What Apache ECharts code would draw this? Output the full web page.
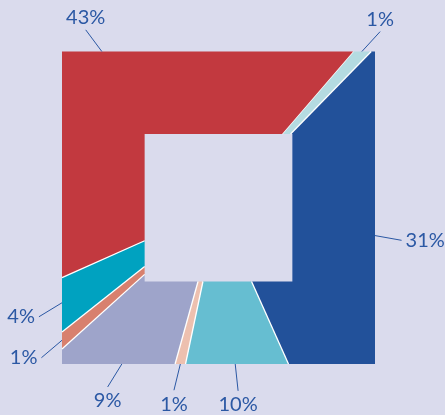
<!DOCTYPE html>
<html>
<head>
<meta charset="utf-8">
<script src="https://cdn.jsdelivr.net/npm/echarts@6/dist/echarts.min.js"></script>
<style>
html,body{margin:0;padding:0;background:#dadbed;}
#c{width:445px;height:415px;}
</style>
</head>
<body>
<div id="c"></div>
<script>
// Data (clockwise from the top-right corner)
const categories = ['A', 'B', 'C', 'D', 'E', 'F', 'G', 'H'];
const values = [1, 31, 10, 1, 9, 1, 4, 43];
const labels = ['1%', '31%', '10%', '1%', '9%', '1%', '4%', '43%'];

// Styles
const palette = ['#b4dbe1', '#22519a', '#66bed1', '#edc0af', '#9ea4ca', '#d8806e', '#00a2c0', '#c2393f'];
const START_ANGLE = 49.3;
const INNER = 0.472;
const LINE_LEN = 27;
const GAP = 4;

const total = values.reduce((a, b) => a + b, 0);
const cum = [];
values.reduce((acc, v, i) => { cum[i] = acc; return acc + v; }, 0);

function rayPoint(angDeg, h) {
  const a = angDeg * Math.PI / 180;
  const c = Math.cos(a), s = Math.sin(a);
  const m = Math.max(Math.abs(c), Math.abs(s));
  return [h * c / m, h * s / m];
}
function cornersBetween(a1, a2) {
  // angles of square corners strictly between a1 (high) and a2 (low)
  const out = [];
  let c = Math.floor((a1 - 45) / 90) * 90 + 45;
  if (c >= a1) c -= 90;
  while (c > a2) { out.push(c); c -= 90; }
  return out;
}

const chart = echarts.init(document.getElementById('c'), null, { renderer: 'canvas' });
chart.setOption({
  backgroundColor: '#dadbed',
  animation: false,
  grid: { left: 62, right: 70, top: 51.5, bottom: 51 },
  xAxis: { type: 'value', min: -1, max: 1, show: false },
  yAxis: { type: 'value', min: -1, max: 1, show: false },
  series: [{
    type: 'custom',
    coordinateSystem: 'cartesian2d',
    data: values.map((v, i) => ({ name: categories[i], value: [i, v] })),
    renderItem: function (params, api) {
      const i = params.dataIndex;
      const v = api.value(1);
      const a1 = START_ANGLE - cum[i] / total * 360;
      const a2 = a1 - v / total * 360;
      const corners = cornersBetween(a1, a2);
      const pts = [];
      pts.push(api.coord(rayPoint(a1, 1)));
      corners.forEach(c => pts.push(api.coord(rayPoint(c, 1))));
      pts.push(api.coord(rayPoint(a2, 1)));
      pts.push(api.coord(rayPoint(a2, INNER)));
      corners.slice().reverse().forEach(c => pts.push(api.coord(rayPoint(c, INNER))));
      pts.push(api.coord(rayPoint(a1, INNER)));

      const sepA = api.coord(rayPoint(a1, INNER));
      const sepB = api.coord(rayPoint(a1, 1));

      const am = (a1 + a2) / 2;
      const rad = am * Math.PI / 180;
      const dx = Math.cos(rad), dy = -Math.sin(rad);
      const anchor = api.coord(rayPoint(am, 1));
      const end = [anchor[0] + dx * LINE_LEN, anchor[1] + dy * LINE_LEN];
      let tx, ty, align, vAlign;
      if (Math.abs(dx) > 0.75) {
        align = dx > 0 ? 'left' : 'right';
        vAlign = 'middle';
        tx = end[0] + (dx > 0 ? GAP : -GAP);
        ty = end[1];
      } else {
        align = 'center';
        vAlign = dy > 0 ? 'top' : 'bottom';
        tx = end[0];
        ty = end[1] + (dy > 0 ? GAP : -2);
      }
      return {
        type: 'group',
        children: [
          { type: 'polygon', shape: { points: pts }, style: { fill: palette[i], stroke: null } },
          { type: 'line', shape: { x1: sepA[0], y1: sepA[1], x2: sepB[0], y2: sepB[1] }, style: { stroke: '#ffffff', lineWidth: 1.3 } },
          { type: 'line', shape: { x1: anchor[0], y1: anchor[1], x2: end[0], y2: end[1] }, style: { stroke: '#2b58a4', lineWidth: 1 } },
          { type: 'text', x: tx, y: ty, style: { text: labels[i], fill: '#2b58a4', font: '20px Lato', align: align, verticalAlign: vAlign } }
        ]
      };
    }
  }]
});
</script>
</body>
</html>
